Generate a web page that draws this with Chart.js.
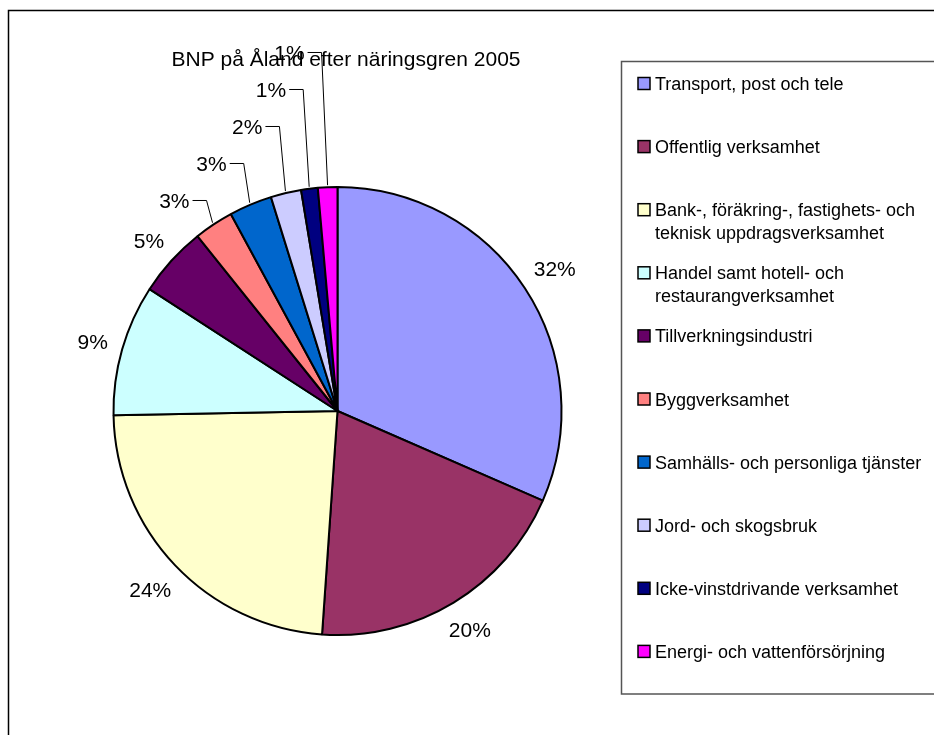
<!DOCTYPE html>
<html>
<head>
<meta charset="utf-8">
<script src="https://cdn.jsdelivr.net/npm/chart.js@4.4.0/dist/chart.umd.min.js"></script>
<style>
    html, body { margin: 0; padding: 0; background: #fff; overflow: hidden; }
    #wrap { position: relative; width: 934px; height: 735px; }
</style>
</head>
<body>
<div id="wrap"><canvas id="bnp-chart" width="934" height="735"></canvas></div>
<script>
const TITLE = 'BNP på Åland efter näringsgren 2005';

const categories = [
    'Transport, post och tele',
    'Offentlig verksamhet',
    'Bank-, föräkring-, fastighets- och teknisk uppdragsverksamhet',
    'Handel samt hotell- och restaurangverksamhet',
    'Tillverkningsindustri',
    'Byggverksamhet',
    'Samhälls- och personliga tjänster',
    'Jord- och skogsbruk',
    'Icke-vinstdrivande verksamhet',
    'Energi- och vattenförsörjning'
];

// andel av BNP, procent
const shares = [31.55, 19.55, 23.6, 9.45, 5.1, 2.85, 3.1, 2.2, 1.2, 1.4];

const sliceColors = [
    '#9999FF', '#993366', '#FFFFCC', '#CCFFFF', '#660066',
    '#FF8080', '#0066CC', '#CCCCFF', '#000080', '#FF00FF'
];

const FONT = '"Liberation Sans", Arial, Helvetica, sans-serif';

// ram runt hela diagrammet + rubrik
const frameAndTitle = {
    id: 'frameAndTitle',
    beforeDraw(chart) {
        const ctx = chart.ctx;
        ctx.save();
        ctx.fillStyle = '#fff';
        ctx.fillRect(0, 0, chart.width, chart.height);
        ctx.strokeStyle = '#000';
        ctx.lineWidth = 1.5;
        ctx.strokeRect(8.5, 10.5, chart.width + 20, chart.height + 20);
        ctx.restore();
    },
    afterDraw(chart) {
        const ctx = chart.ctx;
        ctx.save();
        ctx.font = `21px ${FONT}`;
        ctx.fillStyle = '#000';
        ctx.textAlign = 'center';
        ctx.textBaseline = 'alphabetic';
        ctx.fillText(TITLE, 346, 66);
        ctx.restore();
    }
};

// procentetiketter, små sektorer får hänvisningslinjer
const pieLabels = {
    id: 'pieLabels',
    afterDatasetsDraw(chart) {
        const ctx = chart.ctx;
        const meta = chart.getDatasetMeta(0);
        const values = chart.data.datasets[0].data;
        const total = values.reduce((a, b) => a + b, 0);
        ctx.save();
        ctx.font = `21px ${FONT}`;
        ctx.fillStyle = '#000';
        ctx.strokeStyle = '#000';
        ctx.lineWidth = 1;
        ctx.textAlign = 'center';
        ctx.textBaseline = 'alphabetic';
        let prevY = null;
        meta.data.forEach((arc, i) => {
            const { x, y, startAngle, endAngle, outerRadius } =
                arc.getProps(['x', 'y', 'startAngle', 'endAngle', 'outerRadius'], true);
            const mid = (startAngle + endAngle) / 2;
            const cos = Math.cos(mid), sin = Math.sin(mid);
            const pct = values[i] / total * 100;
            const text = Math.round(pct) + '%';
            const halfW = ctx.measureText(text).width / 2;
            const halfH = 7.5;
            const d = outerRadius + 14 + halfW * Math.abs(cos) + halfH * Math.abs(sin);
            let lx = x + cos * d;
            let ly = y + sin * d;
            if (pct < 4) {
                if (prevY !== null && ly > prevY - 37) ly = prevY - 37;
                const ax = x + cos * (outerRadius + 2);
                const ay = y + sin * (outerRadius + 2);
                const elbow = ax - 6;
                const right = elbow - 17;
                lx = right - halfW;
                ctx.beginPath();
                ctx.moveTo(right + 3, ly);
                ctx.lineTo(elbow, ly);
                ctx.lineTo(ax, ay);
                ctx.stroke();
            }
            ctx.fillText(text, lx, ly + halfH);
            prevY = ly;
        });
        ctx.restore();
    }
};

function wrapText(ctx, text, maxWidth) {
    const words = text.split(' ');
    const lines = [];
    let line = '';
    words.forEach(w => {
        const test = line ? line + ' ' + w : w;
        if (line && ctx.measureText(test).width > maxWidth) {
            lines.push(line);
            line = w;
        } else {
            line = test;
        }
    });
    if (line) lines.push(line);
    return lines;
}

// förklaring i ruta till höger
const boxLegend = {
    id: 'boxLegend',
    afterDraw(chart) {
        const ctx = chart.ctx;
        const labels = chart.data.labels;
        const fills = chart.data.datasets[0].backgroundColor;
        ctx.save();
        ctx.strokeStyle = '#555';
        ctx.lineWidth = 1.5;
        ctx.strokeRect(621.5, 61.5, chart.width, 632.5);

        ctx.font = `18px ${FONT}`;
        ctx.textAlign = 'left';
        ctx.textBaseline = 'alphabetic';
        labels.forEach((label, i) => {
            const cy = 83.5 + i * 63.1;
            ctx.fillStyle = fills[i];
            ctx.fillRect(638, cy - 6, 12, 12);
            ctx.strokeStyle = '#000';
            ctx.lineWidth = 1.5;
            ctx.strokeRect(638, cy - 6, 12, 12);
            ctx.fillStyle = '#000';
            wrapText(ctx, label, 285).forEach((line, j) => {
                ctx.fillText(line, 655, cy + 6.5 + j * 22.7);
            });
        });
        ctx.restore();
    }
};

new Chart(document.getElementById('bnp-chart'), {
    type: 'pie',
    data: {
        labels: categories,
        datasets: [{
            data: shares,
            backgroundColor: sliceColors,
            borderColor: '#000',
            borderWidth: 2
        }]
    },
    options: {
        responsive: false,
        animation: false,
        radius: 224,
        layout: { padding: { left: 113.5, right: 372.5, top: 187, bottom: 100 } },
        plugins: {
            legend: { display: false },
            title: { display: false },
            tooltip: { enabled: false }
        }
    },
    plugins: [frameAndTitle, pieLabels, boxLegend]
});
</script>
</body>
</html>
